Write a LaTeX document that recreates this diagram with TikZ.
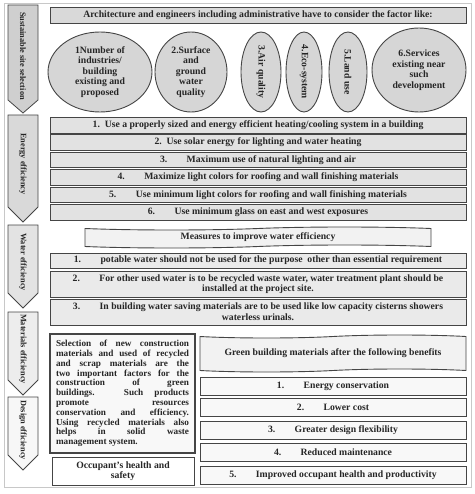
\documentclass[tikz,border=0pt]{standalone}
\usepackage{fontspec}
\setmainfont{Liberation Serif}
\usetikzlibrary{shapes.geometric,shapes.symbols}
\definecolor{framegray}{HTML}{C8C8C8}
\definecolor{edgegray}{HTML}{454545}
\definecolor{headfill}{HTML}{D9D9D9}
\definecolor{ovalfill}{HTML}{D6D6D6}
\definecolor{energyfill}{HTML}{E2E2E2}
\definecolor{waterfill}{HTML}{EAEAEA}
\definecolor{tapefill}{HTML}{F2F2F2}
\definecolor{parafill}{HTML}{F8F8F8}

\begin{document}
\begin{tikzpicture}[x = 1pt, y = -1pt, line width = 0.9pt,
    every node/.style = {font = \bfseries\fontsize{9.7}{10.6}\selectfont, text = black!85},
    sidearrow/.style = {draw = edgegray, line width = 0.8pt},
    sidetext/.style = {rotate = -90, font = \bfseries\fontsize{8.3}{9}\selectfont},
    wide/.style = {draw = edgegray, minimum width = 416pt, inner sep = 0pt, align = center},
    oval/.style = {draw = edgegray, ellipse, fill = ovalfill, inner sep = 0pt, align = center},
    wavy/.style = {draw = edgegray, tape, tape bend top = in and out, tape bend bottom = in and out,
        tape bend height = 3pt, fill = tapefill, inner sep = 0pt},
    benefit/.style = {draw = edgegray, fill = parafill, minimum width = 266pt, minimum height = 18pt, inner sep = 0pt}]
\useasboundingbox (0,0) rectangle (474,494);
\draw[framegray, line width = 0.6pt] (4,3) rectangle (471,487);

% side arrows
\draw[sidearrow, fill = black!19] (8,5) -- (38,5) -- (38,100) -- (23,113) -- (8,100) -- cycle;
\draw[sidearrow, fill = black!15] (8,115) -- (38,115) -- (38,207) -- (23,222) -- (8,207) -- cycle;
\draw[sidearrow, fill = black!11] (8,225) -- (38,225) -- (38,293) -- (23,308) -- (8,293) -- cycle;
\draw[sidearrow, fill = black!7] (8,312) -- (38,312) -- (38,380) -- (23,395) -- (8,380) -- cycle;
\draw[sidearrow, fill = black!3] (8,397) -- (38,397) -- (38,455) -- (23,470) -- (8,455) -- cycle;
\node[sidetext] (s1) at (23,56) {Sustainable site selection};
\node[sidetext] (s2) at (23,164) {Energy efficiency};
\node[sidetext] (s3) at (23,262) {Water efficiency};
\node[sidetext] (s4) at (23,349) {Materials efficiency};
\node[sidetext] (s5) at (23,430) {Design efficiency};

% site selection
\node[wide, fill = headfill, minimum height = 16pt] (head) at (258,15)
    {Architecture and engineers including administrative have to consider the factor like:};
\node[oval, minimum width = 104pt, minimum height = 80pt] (o1) at (100,72)
    {1Number of\\industries/\\building\\existing and\\proposed};
\node[oval, minimum width = 72pt, minimum height = 80pt] (o2) at (191,72)
    {2.Surface\\and\\ground\\water\\quality};
\node[oval, rotate = -90, minimum width = 80pt, minimum height = 40pt] (o3) at (261,72) {3.Air quality};
\node[oval, rotate = -90, minimum width = 80pt, minimum height = 36pt] (o4) at (304,72) {4.Eco-system};
\node[oval, rotate = -90, minimum width = 80pt, minimum height = 38pt] (o5) at (348,72) {5.Land use};
\node[oval, minimum width = 94pt, minimum height = 84pt] (o6) at (419,70)
    {6.Services\\existing near\\such\\development};

% energy
\node[wide, fill = energyfill, minimum height = 16pt] (e1) at (258,125)
    {1.\enspace Use a properly sized and energy efficient heating/cooling system in a building};
\node[wide, fill = energyfill, minimum height = 15.5pt] (e2) at (258,142.5)
    {2.\enspace Use solar energy for lighting and water heating};
\node[wide, fill = energyfill, minimum height = 15.5pt] (e3) at (258,160)
    {3.\qquad Maximum use of natural lighting and air};
\node[wide, fill = energyfill, minimum height = 15.5pt] (e4) at (258,177.5)
    {4.\qquad Maximize light colors for roofing and wall finishing materials};
\node[wide, fill = energyfill, minimum height = 15.5pt] (e5) at (258,195)
    {5.\qquad Use minimum light colors for roofing and wall finishing materials};
\node[wide, fill = energyfill, minimum height = 15.5pt] (e6) at (258,212.5)
    {6.\qquad Use minimum glass on east and west exposures};

% water
\node[wavy, minimum width = 346pt, minimum height = 21pt] (w0) at (258,237.5)
    {Measures to improve water efficiency};
\node[wide, fill = waterfill, minimum height = 15pt] (w1) at (258,260.5)
    {1.\qquad potable water should not be used for the purpose\ \ other than essential requirement};
\node[wide, fill = waterfill, minimum height = 26pt] (w2) at (258,284)
    {2.\qquad For other used water is to be recycled waste water, water treatment plant should be\\
     installed at the project site.};
\node[wide, fill = waterfill, minimum height = 26pt] (w3) at (258,312)
    {3.\qquad In building water saving materials are to be used like low capacity cisterns showers\\
     waterless urinals.};

% materials and design
\node[draw = edgegray, line width = 1.1pt, fill = parafill, minimum width = 145pt, minimum height = 119pt,
    text width = 133pt, align = justify, font = \bfseries\fontsize{9.2}{9.8}\selectfont] (para) at (122.5,393.5)
    {\hyphenpenalty=10000 Selection of new construction\linebreak materials and used of recycled\linebreak
     and scrap materials are the\linebreak two important factors for the\linebreak construction of green\linebreak
     buildings. Such products\linebreak promote resources\linebreak conservation and efficiency.\linebreak
     Using recycled materials also\linebreak helps in solid waste\linebreak management system.};
\node[draw = edgegray, fill = white, minimum width = 142pt, minimum height = 28pt, inner sep = 0pt,
    align = center] (occ) at (123,471) {Occupant's health and\\safety};
\node[wavy, minimum width = 266pt, minimum height = 37pt] (g0) at (333,353.5)
    {Green building materials after the following benefits};
\node[benefit] (b1) at (333,386) {1.\qquad Energy conservation};
\node[benefit] (b2) at (333,407.5) {2.\qquad Lower cost};
\node[benefit] (b3) at (333,430) {3.\qquad Greater design flexibility};
\node[benefit] (b4) at (333,452.5) {4.\qquad Reduced maintenance};
\node[benefit] (b5) at (333,475.5) {5.\qquad Improved occupant health and productivity};
\end{tikzpicture}
\end{document}
